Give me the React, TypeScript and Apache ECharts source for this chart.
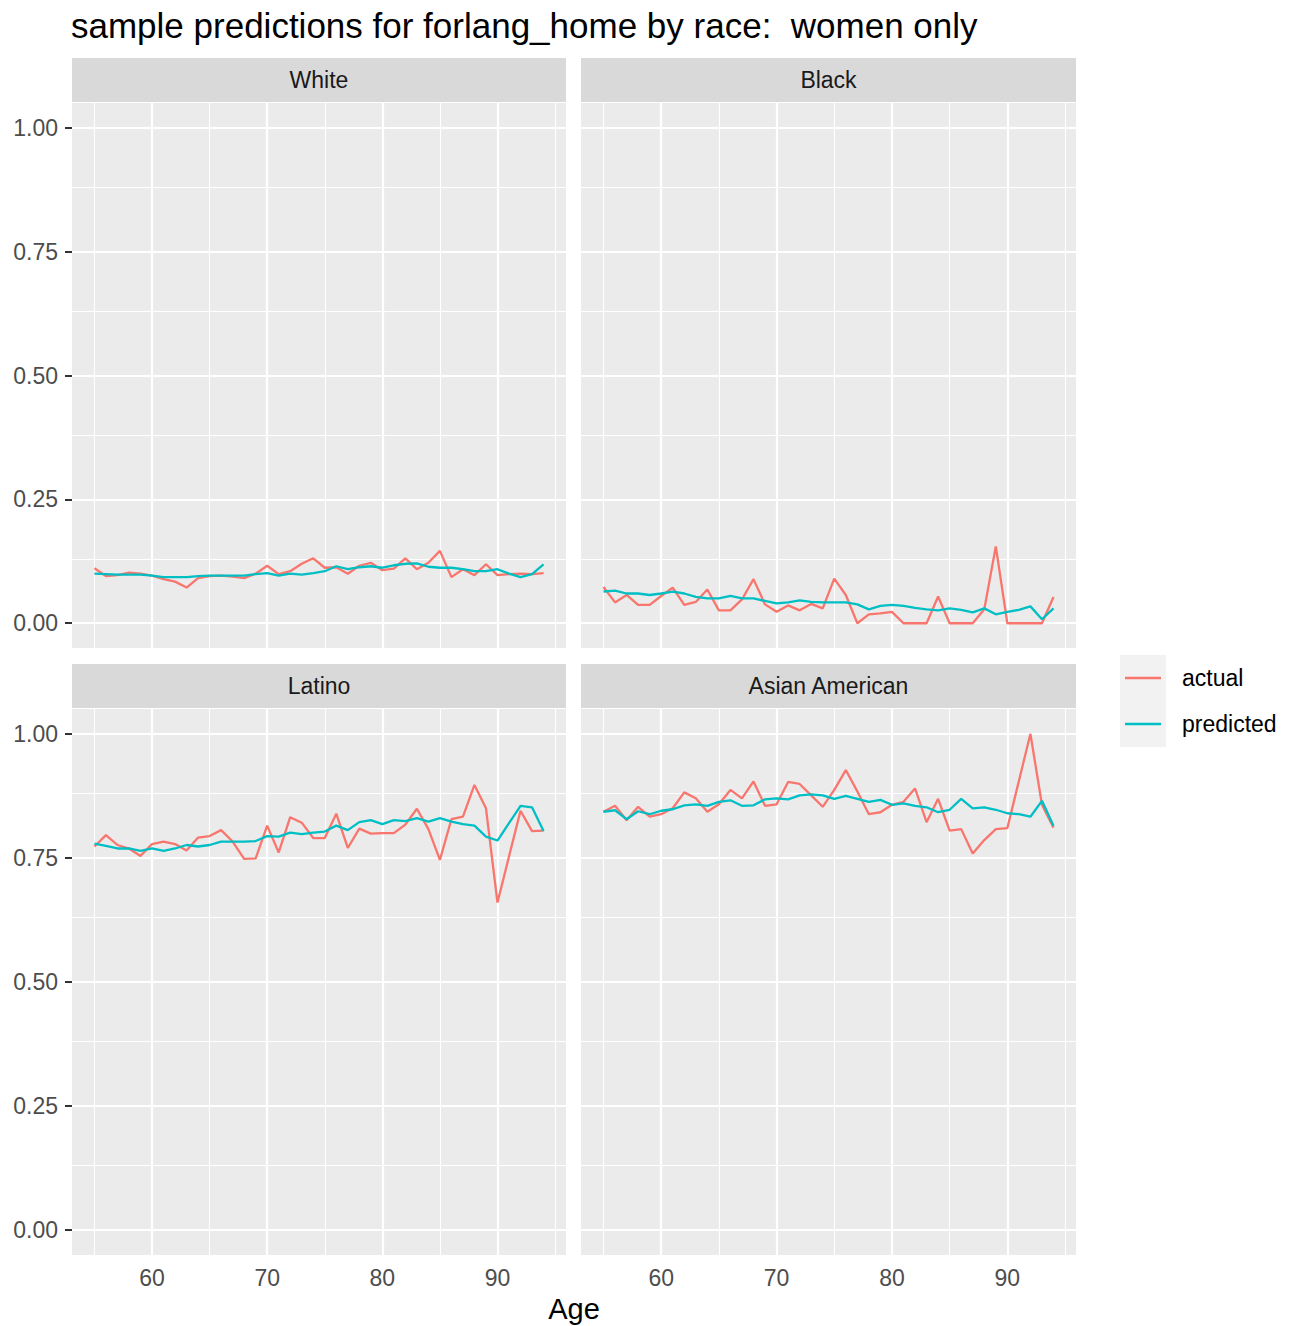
import React, { useEffect, useRef } from "react";
import * as echarts from "echarts";

// ---------------- data ----------------
const AGES = [55, 56, 57, 58, 59, 60, 61, 62, 63, 64, 65, 66, 67, 68, 69, 70, 71, 72, 73, 74, 75, 76, 77, 78, 79, 80, 81, 82, 83, 84, 85, 86, 87, 88, 89, 90, 91, 92, 93, 94];

const WHITE_ACTUAL = [0.111, 0.095, 0.097, 0.102, 0.1, 0.096, 0.089, 0.084, 0.072, 0.091, 0.095, 0.096, 0.094, 0.091, 0.1, 0.116, 0.099, 0.105, 0.12, 0.131, 0.112, 0.113, 0.1, 0.116, 0.122, 0.107, 0.11, 0.131, 0.109, 0.122, 0.146, 0.093, 0.109, 0.097, 0.119, 0.097, 0.099, 0.1, 0.099, 0.101];
const WHITE_PRED = [0.1, 0.099, 0.098, 0.098, 0.098, 0.096, 0.093, 0.093, 0.093, 0.095, 0.096, 0.096, 0.096, 0.096, 0.099, 0.101, 0.096, 0.1, 0.098, 0.101, 0.105, 0.115, 0.109, 0.113, 0.115, 0.112, 0.117, 0.12, 0.121, 0.114, 0.112, 0.112, 0.109, 0.105, 0.105, 0.109, 0.1, 0.093, 0.099, 0.119];

const BLACK_ACTUAL = [0.073, 0.042, 0.057, 0.037, 0.037, 0.055, 0.072, 0.037, 0.043, 0.068, 0.026, 0.026, 0.048, 0.089, 0.038, 0.023, 0.036, 0.026, 0.039, 0.03, 0.09, 0.057, 0.0, 0.018, 0.02, 0.023, 0.0, 0.0, 0.0, 0.054, 0.0, 0.0, 0.0, 0.028, 0.155, 0.0, 0.0, 0.0, 0.0, 0.053];
const BLACK_PRED = [0.064, 0.066, 0.06, 0.06, 0.057, 0.06, 0.064, 0.06, 0.053, 0.05, 0.05, 0.055, 0.05, 0.05, 0.045, 0.04, 0.042, 0.046, 0.043, 0.042, 0.042, 0.042, 0.038, 0.028, 0.035, 0.037, 0.035, 0.031, 0.028, 0.026, 0.03, 0.027, 0.022, 0.03, 0.018, 0.023, 0.027, 0.034, 0.008, 0.03];

const LATINO_ACTUAL = [0.773, 0.796, 0.776, 0.769, 0.754, 0.778, 0.783, 0.778, 0.765, 0.791, 0.794, 0.806, 0.783, 0.748, 0.749, 0.815, 0.761, 0.832, 0.821, 0.79, 0.79, 0.839, 0.77, 0.809, 0.799, 0.8, 0.8, 0.817, 0.849, 0.808, 0.746, 0.828, 0.833, 0.897, 0.85, 0.66, 0.753, 0.845, 0.804, 0.805];
const LATINO_PRED = [0.779, 0.774, 0.769, 0.769, 0.764, 0.769, 0.764, 0.769, 0.776, 0.773, 0.776, 0.783, 0.783, 0.783, 0.784, 0.794, 0.793, 0.801, 0.798, 0.801, 0.803, 0.815, 0.806, 0.822, 0.826, 0.818, 0.826, 0.824, 0.83, 0.823, 0.83, 0.823, 0.818, 0.815, 0.793, 0.785, 0.82, 0.855, 0.852, 0.804];

const ASIAN_ACTUAL = [0.843, 0.855, 0.826, 0.853, 0.833, 0.838, 0.85, 0.882, 0.87, 0.843, 0.858, 0.887, 0.87, 0.904, 0.855, 0.858, 0.903, 0.899, 0.876, 0.853, 0.887, 0.927, 0.884, 0.838, 0.842, 0.857, 0.863, 0.89, 0.822, 0.869, 0.805, 0.808, 0.759, 0.786, 0.808, 0.81, 0.905, 1.0, 0.857, 0.811];
const ASIAN_PRED = [0.843, 0.846, 0.828, 0.844, 0.838, 0.845, 0.848, 0.856, 0.858, 0.855, 0.863, 0.866, 0.855, 0.856, 0.868, 0.87, 0.868, 0.876, 0.878, 0.876, 0.869, 0.875, 0.869, 0.863, 0.867, 0.857, 0.86, 0.855, 0.852, 0.842, 0.847, 0.869, 0.85, 0.852, 0.847, 0.84, 0.838, 0.833, 0.865, 0.815];

const PANEL_NAMES = ["White", "Black", "Latino", "Asian American"];
const ACTUAL_SERIES = [WHITE_ACTUAL, BLACK_ACTUAL, LATINO_ACTUAL, ASIAN_ACTUAL];
const PRED_SERIES = [WHITE_PRED, BLACK_PRED, LATINO_PRED, ASIAN_PRED];

const X_MAJOR = [60, 70, 80, 90];
const X_MINOR = [55, 65, 75, 85, 95];
const Y_MAJOR = [0, 0.25, 0.5, 0.75, 1.0];
const Y_MINOR = [0.125, 0.375, 0.625, 0.875];

const TITLE = "sample predictions for forlang_home by race:  women only";
const X_TITLE = "Age";
const LEGEND_LABELS = ["actual", "predicted"];

// ---------------- layout / style ----------------
const W = 1291;
const H = 1326;
const FONT = "'Liberation Sans', Arial, Helvetica, sans-serif";
const RED = "#F8766D";
const TEAL = "#00BFC4";
const SMALL = 23;
const PANELS = [
  { left: 72, top: 103, width: 494, height: 545 },
  { left: 581, top: 103, width: 495, height: 545 },
  { left: 72, top: 709, width: 494, height: 546 },
  { left: 581, top: 709, width: 495, height: 546 },
];
const STRIP_H = 44;

export default function App() {
  const ref = useRef<HTMLDivElement>(null);

  useEffect(() => {
    if (!ref.current) return;
    const chart = echarts.init(ref.current, undefined, { renderer: "svg" });

    const grids = PANELS.map((p) => ({
      left: p.left,
      top: p.top,
      width: p.width,
      height: p.height,
      show: true,
      backgroundColor: "#EBEBEB",
      borderWidth: 0,
      containLabel: false,
    }));

    const xAxes = PANELS.map((_, i) => {
      const bottom = i >= 2;
      return {
        type: "value",
        gridIndex: i,
        min: 53.05,
        max: 95.95,
        axisLine: { show: false },
        splitLine: { show: false },
        axisTick: {
          show: bottom,
          length: 7,
          customValues: X_MAJOR,
          lineStyle: { color: "#333333", width: 2 },
        },
        axisLabel: {
          show: bottom,
          customValues: X_MAJOR,
          fontSize: SMALL,
          fontFamily: FONT,
          color: "#4D4D4D",
          margin: 11,
        },
      };
    });

    const yAxes = PANELS.map((_, i) => {
      const leftCol = i % 2 === 0;
      return {
        type: "value",
        gridIndex: i,
        min: -0.05,
        max: 1.05,
        axisLine: { show: false },
        splitLine: { show: false },
        axisTick: {
          show: leftCol,
          length: 7,
          customValues: Y_MAJOR,
          lineStyle: { color: "#333333", width: 2 },
        },
        axisLabel: {
          show: leftCol,
          customValues: Y_MAJOR,
          fontSize: SMALL,
          fontFamily: FONT,
          color: "#4D4D4D",
          margin: 14,
          formatter: (v: number) => v.toFixed(2),
        },
      };
    });

    const gridLineData = [
      ...X_MINOR.map((v) => ({ xAxis: v, lineStyle: { color: "#FFFFFF", width: 1.1, type: "solid" } })),
      ...Y_MINOR.map((v) => ({ yAxis: v, lineStyle: { color: "#FFFFFF", width: 1.1, type: "solid" } })),
      ...X_MAJOR.map((v) => ({ xAxis: v, lineStyle: { color: "#FFFFFF", width: 2.2, type: "solid" } })),
      ...Y_MAJOR.map((v) => ({ yAxis: v, lineStyle: { color: "#FFFFFF", width: 2.2, type: "solid" } })),
    ];

    const series: any[] = [];
    PANELS.forEach((_, i) => {
      series.push({
        type: "line",
        name: "grid" + i,
        xAxisIndex: i,
        yAxisIndex: i,
        data: [],
        z: 1,
        silent: true,
        markLine: {
          silent: true,
          z: 1,
          symbol: ["none", "none"],
          label: { show: false },
          emphasis: { disabled: true },
          lineStyle: { type: "solid", color: "#FFFFFF" },
          data: gridLineData,
        },
      });
    });
    PANELS.forEach((_, i) => {
      series.push({
        type: "line",
        name: LEGEND_LABELS[0],
        xAxisIndex: i,
        yAxisIndex: i,
        data: AGES.map((a, k) => [a, ACTUAL_SERIES[i][k]]),
        showSymbol: false,
        symbol: "none",
        z: 3,
        lineStyle: { color: RED, width: 2.3 },
        itemStyle: { color: RED },
        emphasis: { disabled: true },
      });
    });
    PANELS.forEach((_, i) => {
      series.push({
        type: "line",
        name: LEGEND_LABELS[1],
        xAxisIndex: i,
        yAxisIndex: i,
        data: AGES.map((a, k) => [a, PRED_SERIES[i][k]]),
        showSymbol: false,
        symbol: "none",
        z: 4,
        lineStyle: { color: TEAL, width: 2.3 },
        itemStyle: { color: TEAL },
        emphasis: { disabled: true },
      });
    });

    const graphic: any[] = [];
    // title
    graphic.push({
      type: "text",
      x: 71,
      y: 25,
      style: {
        text: TITLE,
        fill: "#000000",
        fontSize: 35,
        fontFamily: FONT,
        align: "left",
        verticalAlign: "middle",
        textAlign: "left",
        textVerticalAlign: "middle",
      },
    });
    // strips
    PANELS.forEach((p, i) => {
      graphic.push({
        type: "rect",
        shape: { x: p.left, y: p.top - STRIP_H - 1, width: p.width, height: STRIP_H },
        style: { fill: "#D9D9D9" },
      });
      graphic.push({
        type: "text",
        x: p.left + p.width / 2,
        y: p.top - STRIP_H / 2 - 1,
        style: {
          text: PANEL_NAMES[i],
          fill: "#1A1A1A",
          fontSize: SMALL,
          fontFamily: FONT,
          align: "center",
          verticalAlign: "middle",
          textAlign: "center",
          textVerticalAlign: "middle",
        },
      });
    });
    // x axis title
    graphic.push({
      type: "text",
      x: 574,
      y: 1309,
      style: {
        text: X_TITLE,
        fill: "#000000",
        fontSize: 29,
        fontFamily: FONT,
        align: "center",
        verticalAlign: "middle",
        textAlign: "center",
        textVerticalAlign: "middle",
      },
    });
    // legend
    const LEG_X = 1120;
    const LEG_Y = 655;
    const KEY = 46;
    const legendColors = [RED, TEAL];
    LEGEND_LABELS.forEach((lab, k) => {
      const ky = LEG_Y + k * KEY;
      graphic.push({
        type: "rect",
        shape: { x: LEG_X, y: ky, width: KEY, height: KEY },
        style: { fill: "#F2F2F2" },
      });
      graphic.push({
        type: "line",
        shape: { x1: LEG_X + 5, y1: ky + KEY / 2, x2: LEG_X + KEY - 5, y2: ky + KEY / 2 },
        style: { stroke: legendColors[k], lineWidth: 2.3 },
      });
      graphic.push({
        type: "text",
        x: LEG_X + KEY + 16,
        y: ky + KEY / 2,
        style: {
          text: lab,
          fill: "#000000",
          fontSize: SMALL,
          fontFamily: FONT,
          align: "left",
          verticalAlign: "middle",
          textAlign: "left",
          textVerticalAlign: "middle",
        },
      });
    });

    chart.setOption({
      animation: false,
      backgroundColor: "#FFFFFF",
      textStyle: { fontFamily: FONT },
      grid: grids,
      xAxis: xAxes,
      yAxis: yAxes,
      series,
      graphic,
    });

    return () => {
      chart.dispose();
    };
  }, []);

  return (
    <div
      ref={ref}
      style={{ position: "absolute", left: 0, top: 0, width: W, height: H, background: "#FFFFFF" }}
    />
  );
}
